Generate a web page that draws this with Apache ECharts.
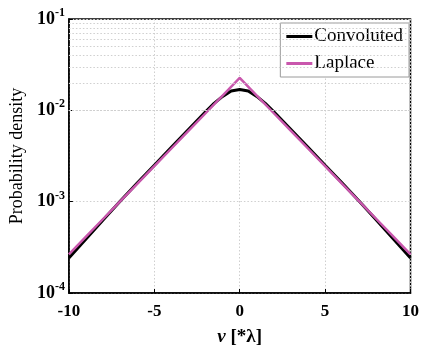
<!DOCTYPE html>
<html><head><meta charset="utf-8">
<script src="https://cdn.jsdelivr.net/npm/echarts@6/dist/echarts.min.js"></script>
<style>html,body{margin:0;padding:0;background:#fff}#c{width:422px;height:352px}</style>
</head><body><div id="c"></div>
<script>
const convX = [-10,-9,-8,-7,-6,-5,-4,-3,-2,-1.5,-1,-0.5,0,0.5,1,1.5,2,3,4,5,6,7,8,9,10];
const convY = [0.000241,0.000389,0.000631,0.00101,0.00160,0.00251,0.00394,0.00617,0.00966,0.0119,0.0142,0.0163,0.0169,0.0163,0.0142,0.0119,0.00966,0.00617,0.00394,0.00251,0.00160,0.00101,0.000631,0.000389,0.000241];
const lapX = [-10,-9,-8,-7,-6,-5,-4,-3,-2,-1,0,1,2,3,4,5,6,7,8,9,10];
const lapY = [0.000265,0.000414,0.000646,0.00101,0.00157,0.00245,0.00382,0.00596,0.00929,0.01449,0.0226,0.01449,0.00929,0.00596,0.00382,0.00245,0.00157,0.00101,0.000646,0.000414,0.000265];
const minorGrid = [2e-4,3e-4,4e-4,5e-4,6e-4,7e-4,8e-4,9e-4,2e-3,3e-3,4e-3,5e-3,6e-3,7e-3,8e-3,9e-3,2e-2,3e-2,4e-2,5e-2,6e-2,7e-2,8e-2,9e-2];
const xTicks = [-10,-5,0,5,10];

const serif = 'Liberation Serif';
const chart = echarts.init(document.getElementById('c'));
const gridLine = {color:'#cfcfcf', type:[1.5,2], width:1};
chart.setOption({
  animation:false,
  grid:{left:68,right:7,top:19,bottom:50,show:true,borderColor:'#000',borderWidth:1.5,backgroundColor:'transparent'},
  legend:{
    orient:'vertical', right:13, top:23, itemWidth:26, itemHeight:3, itemGap:8,
    backgroundColor:'#fff', borderColor:'#9a9a9a', borderWidth:1, padding:[4,6,4,6],
    icon:'rect',
    textStyle:{fontFamily:serif,fontSize:19,color:'#000',padding:[0,0,0,-3]},
    data:['Convoluted','Laplace']
  },
  xAxis:{
    type:'value', min:-10, max:10, interval:5,
    axisLine:{onZero:false,lineStyle:{color:'#000',width:1.5}},
    axisTick:{inside:true,length:4,lineStyle:{color:'#000'}},
    splitLine:{show:true,lineStyle:gridLine},
    axisLabel:{fontFamily:serif,fontSize:17,fontWeight:'bold',color:'#000',margin:10,
      formatter:v=> xTicks.includes(v) ? String(v) : ''},
    name:'{i|ν} [*λ]', nameLocation:'middle', nameGap:35,
    nameTextStyle:{fontFamily:serif,fontSize:19,fontWeight:'bold',color:'#000',
      rich:{i:{fontFamily:serif,fontSize:19,fontStyle:'italic',fontWeight:'bold',color:'#000'}}}
  },
  yAxis:{
    type:'log', logBase:10, min:1e-4, max:1e-1,
    axisLine:{onZero:false,lineStyle:{color:'#000',width:1.5}},
    axisTick:{inside:true,length:4,lineStyle:{color:'#000'}},
    splitLine:{show:true,lineStyle:gridLine},
    axisLabel:{margin:4,
      formatter:v=>{const e=Math.round(Math.log10(v));return '{b|10}{s|'+e+'}';},
      rich:{b:{fontFamily:serif,fontSize:18,fontWeight:'bold',color:'#000'},
            s:{fontFamily:serif,fontSize:12,fontWeight:'bold',color:'#000',verticalAlign:'bottom',padding:[0,0,12,0]}}},
    name:'Probability density', nameLocation:'middle', nameGap:37,
    nameTextStyle:{fontFamily:serif,fontSize:18,color:'#000'}
  },
  series:[
    {name:'Convoluted',type:'line',showSymbol:false,symbol:'none',
     data:convX.map((x,i)=>[x,convY[i]]),
     lineStyle:{color:'#000',width:3},itemStyle:{color:'#000'},z:3,
     markLine:{silent:true,symbol:'none',label:{show:false},animation:false,
       lineStyle:gridLine,data:minorGrid.map(v=>({yAxis:v}))}},
    {name:'Laplace',type:'line',showSymbol:false,symbol:'none',
     data:lapX.map((x,i)=>[x,lapY[i]]),
     lineStyle:{color:'#c957ad',width:2.5},itemStyle:{color:'#c957ad'},z:4}
  ]
});
</script></body></html>
